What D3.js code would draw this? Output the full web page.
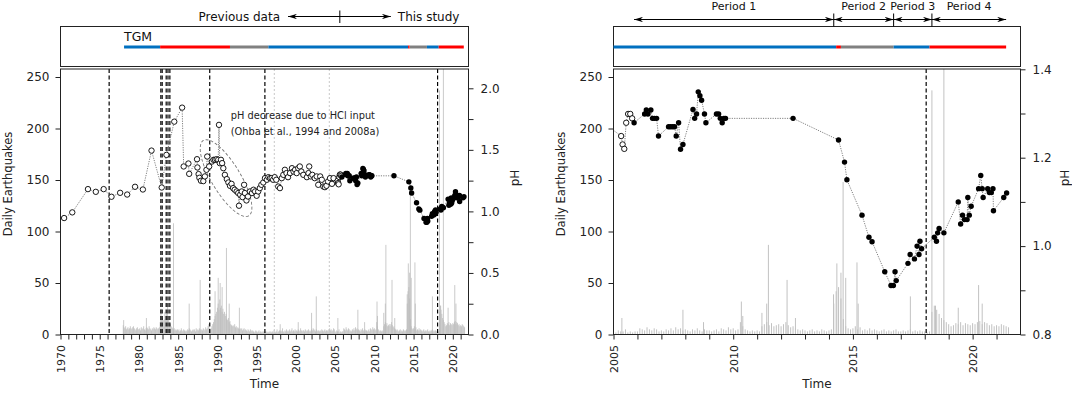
<!DOCTYPE html>
<html>
<head>
<meta charset="utf-8">
<script src="https://cdn.jsdelivr.net/npm/d3@7"></script>
<style>
  body { margin: 0; background: #fff; }
  svg { font-family: "DejaVu Sans", Verdana, sans-serif; }
</style>
</head>
<body>
<div id="chart"></div>
<script>
// ---- pH, previous data (open circles)
const prevYears = [1970.46, 1971.5, 1973.5, 1974.5, 1975.5, 1976.5, 1977.6, 1978.5, 1979.5, 1980.5,
  1981.6, 1982.9, 1983.5, 1984.5, 1985.5, 1985.7, 1986.3, 1986.4, 1987.4, 1987.45,
  1987.6, 1987.7, 1987.9, 1988.2, 1988.4, 1988.6, 1988.7, 1988.95, 1989.3, 1989.5,
  1989.7, 1989.9, 1990.1, 1990.2, 1990.3, 1990.45, 1990.6, 1990.75, 1990.95, 1991.2,
  1991.4, 1991.6, 1991.8, 1992.0, 1992.2, 1992.45, 1992.65, 1992.75, 1992.9, 1993.1,
  1993.2, 1993.4, 1993.5, 1993.7, 1993.9, 1994.15, 1994.4, 1994.6, 1994.8, 1995.0,
  1995.2, 1995.4, 1995.6, 1995.85, 1996.06, 1996.3, 1996.5, 1996.7, 1996.9, 1997.1,
  1997.3, 1997.5, 1997.75, 1997.97, 1998.2, 1998.4, 1998.6, 1998.8, 1999.0, 1999.25,
  1999.5, 1999.7, 1999.9, 2000.1, 2000.3, 2000.5, 2000.7, 2000.95, 2001.4, 2001.6,
  2001.7, 2001.9, 2002.1, 2002.4, 2002.65, 2002.85, 2003.1, 2003.3, 2003.5, 2003.7,
  2003.9, 2004.1, 2004.35, 2004.6, 2004.8, 2005.32, 2005.38, 2005.45, 2005.53, 2005.61,
  2005.7, 2005.78];
const prevPH = [0.946, 0.992, 1.181, 1.159, 1.181, 1.119, 1.151, 1.137, 1.2, 1.178,
  1.494, 1.194, 1.459, 1.729, 1.843, 1.365, 1.389, 1.305, 1.424, 1.357,
  1.303, 1.273, 1.249, 1.246, 1.284, 1.338, 1.446, 1.365, 1.405, 1.419,
  1.419, 1.424, 1.419, 1.703, 1.392, 1.419, 1.392, 1.351, 1.297, 1.262,
  1.235, 1.208, 1.224, 1.189, 1.176, 1.162, 1.149, 1.046, 1.135, 1.162,
  1.116, 1.216, 1.149, 1.089, 1.121, 1.162, 1.149, 1.176, 1.162, 1.127,
  1.162, 1.189, 1.216, 1.235, 1.27, 1.257, 1.278, 1.27, 1.27, 1.257,
  1.278, 1.257, 1.202, 1.189, 1.27, 1.297, 1.338, 1.311, 1.278, 1.311,
  1.351, 1.324, 1.338, 1.311, 1.351, 1.365, 1.324, 1.297, 1.278, 1.311,
  1.365, 1.284, 1.297, 1.27, 1.284, 1.216, 1.284, 1.257, 1.202, 1.197,
  1.208, 1.243, 1.27, 1.224, 1.27, 1.249, 1.23, 1.22, 1.279, 1.299,
  1.299, 1.289];

// ---- pH, this study (filled circles)
const studyYears = [2005.86, 2006.3, 2006.37, 2006.44, 2006.56, 2006.63, 2006.71, 2006.8, 2006.88, 2007.3,
  2007.38, 2007.47, 2007.55, 2007.62, 2007.72, 2007.8, 2007.9, 2008.32, 2008.39, 2008.47,
  2008.54, 2008.61, 2008.68, 2008.8, 2008.86, 2009.3, 2009.39, 2009.46, 2009.54, 2009.61,
  2009.68, 2012.5, 2014.4, 2014.65, 2014.75, 2015.38, 2015.67, 2015.8, 2016.33, 2016.59,
  2016.69, 2016.76, 2016.81, 2017.3, 2017.39, 2017.57, 2017.68, 2017.76, 2017.8, 2017.87,
  2018.4, 2018.49, 2018.54, 2018.6, 2018.8, 2019.4, 2019.5, 2019.58, 2019.66, 2019.77,
  2019.8, 2019.86, 2019.94, 2020.25, 2020.34, 2020.4, 2020.44, 2020.63, 2020.7, 2020.78,
  2020.85, 2020.87, 2021.3, 2021.42];
const studyPH = [1.279, 1.299, 1.308, 1.299, 1.308, 1.289, 1.289, 1.289, 1.249, 1.27,
  1.27, 1.27, 1.27, 1.249, 1.279, 1.219, 1.23, 1.309, 1.289, 1.299,
  1.349, 1.34, 1.33, 1.299, 1.279, 1.299, 1.299, 1.289, 1.279, 1.289,
  1.289, 1.289, 1.24, 1.19, 1.15, 1.07, 1.02, 1.01, 0.942, 0.911,
  0.911, 0.942, 0.922, 0.961, 0.981, 0.971, 1.0, 0.981, 1.011, 0.994,
  1.02, 1.011, 1.03, 1.04, 1.03, 1.1, 1.05, 1.07, 1.06, 1.06,
  1.11, 1.07, 1.09, 1.13, 1.16, 1.13, 1.11, 1.13, 1.121, 1.121,
  1.13, 1.08, 1.11, 1.12];

// ---- daily earthquakes: background level, 10 values per year from 1978
const quakeFirstYear = 1978;
const quakeBase = [
  [9, 7, 6, 8, 5, 6, 7, 5, 6, 8], [6, 5, 7, 8, 6, 5, 4, 6, 7, 5],
  [5, 6, 4, 7, 5, 6, 8, 5, 4, 6], [7, 6, 5, 8, 6, 5, 4, 6, 5, 7],
  [6, 5, 7, 6, 5, 6, 7, 12, 15, 18], [16, 14, 12, 15, 18, 20, 16, 14, 18, 12],
  [10, 8, 7, 6, 5, 6, 4, 5, 4, 5], [4, 5, 3, 4, 6, 4, 3, 5, 4, 3],
  [4, 3, 5, 4, 6, 5, 4, 3, 4, 5], [4, 5, 3, 6, 4, 5, 4, 6, 5, 4],
  [5, 4, 6, 5, 4, 7, 5, 6, 8, 10], [6, 5, 6, 8, 10, 12, 15, 18, 20, 22],
  [26, 30, 24, 34, 26, 28, 22, 25, 20, 22], [18, 20, 15, 14, 16, 12, 13, 10, 9, 8],
  [9, 8, 10, 7, 8, 6, 7, 6, 5, 6], [5, 6, 4, 5, 6, 4, 5, 4, 3, 5],
  [4, 3, 5, 4, 3, 4, 3, 2, 3, 4], [3, 2, 3, 4, 2, 3, 2, 3, 2, 3],
  [2, 3, 2, 3, 2, 2, 3, 2, 3, 2], [3, 2, 4, 3, 2, 3, 5, 2, 3, 4],
  [3, 4, 3, 6, 3, 2, 4, 3, 5, 3], [4, 3, 5, 3, 4, 6, 3, 4, 3, 5],
  [3, 4, 3, 5, 4, 3, 6, 4, 3, 4], [4, 3, 5, 4, 3, 4, 5, 3, 4, 3],
  [5, 4, 6, 5, 4, 3, 5, 4, 3, 4], [3, 4, 3, 5, 4, 3, 4, 5, 3, 4],
  [4, 3, 5, 6, 4, 5, 3, 4, 6, 5], [3, 2, 4, 3, 3, 5, 2, 3, 2, 3],
  [3, 6, 5, 4, 7, 5, 4, 6, 5, 3], [4, 3, 5, 4, 6, 4, 7, 5, 6, 4],
  [5, 4, 3, 5, 4, 6, 4, 3, 5, 4], [4, 3, 4, 5, 3, 6, 5, 4, 7, 5],
  [6, 4, 5, 12, 8, 5, 4, 3, 4, 3], [4, 3, 8, 10, 12, 9, 11, 8, 9, 10],
  [8, 10, 12, 9, 7, 8, 6, 5, 4, 5], [4, 3, 4, 5, 3, 4, 3, 5, 4, 3],
  [4, 5, 30, 42, 46, 35, 15, 8, 6, 5], [6, 8, 5, 7, 4, 5, 4, 6, 4, 5],
  [4, 3, 4, 5, 3, 4, 3, 4, 5, 3], [3, 4, 3, 4, 5, 3, 4, 3, 4, 3],
  [3, 2, 3, 22, 28, 24, 20, 16, 14, 12], [10, 8, 9, 11, 10, 12, 9, 11, 10, 9],
  [11, 10, 12, 13, 10, 12, 11, 9, 10, 8], [9, 8, 10, 9, 8, 7]
];
// ---- daily earthquakes: individual peaks
const spikeYears = [1978.05, 1980.95, 1982.8, 1983.3, 1983.65, 1984.4, 1986.4, 1987.8, 1989.7, 1990.1,
  1990.35, 1990.6, 1991.15, 1991.5, 1992.8, 1998.0, 2000.3, 2002.0, 2002.6, 2005.35,
  2007.9, 2008.76, 2010.34, 2010.4, 2011.2, 2011.4, 2011.47, 2012.25, 2012.6, 2014.19,
  2014.33, 2014.5, 2014.59, 2014.7, 2015.17, 2015.22, 2017.4, 2018.3, 2018.45, 2018.8,
  2019.4, 2020.25, 2020.4];
const spikeCounts = [14, 16, 25, 22, 30, 108, 30, 53, 42, 55,
  50, 46, 84, 30, 26, 10, 12, 21, 37, 16,
  24, 12, 32, 18, 21, 30, 87, 53, 16, 39,
  69, 60, 148, 55, 70, 30, 37, 237, 28, 300,
  26, 48, 30];

// ---- event lines
const eruptionYears = [1976.2, 1982.79, 1982.96, 1983.47, 1983.7, 1983.94, 1989.02, 1996.05, 2018.06];
const dottedYears = [1997.25, 2004.26];

// ---- status bar (top strip)
const statusStart = [1978.1, 1982.7, 1991.6, 1996.5, 2014.3, 2014.5, 2016.7, 2018.2];
const statusEnd = [1982.7, 1991.6, 1996.5, 2014.3, 2014.5, 2016.7, 2018.2, 2021.4];
const statusColor = ["#0070C0", "#FF0000", "#808080", "#0070C0", "#FF0000", "#808080", "#0070C0", "#FF0000"];

// ---- header annotations
const periodLabels = ["Period 1", "Period 2", "Period 3", "Period 4"];
const periodBounds = [2005.86, 2014.2, 2016.7, 2018.3, 2021.4];
const studySplit = 2005.6;
const studyArrow = [1999.0, 2012.1];

const W = 1072, H = 393;
const plotTop = 69, plotBottom = 334.5;
const boxTop = 26.5, boxBottom = 66.5;

const svg = d3.select("#chart").append("svg")
  .attr("width", W).attr("height", H);

const defs = svg.append("defs");
defs.append("marker")
  .attr("id", "arrow")
  .attr("viewBox", "0 0 10 6")
  .attr("refX", 10).attr("refY", 3)
  .attr("markerWidth", 9).attr("markerHeight", 5.4)
  .attr("markerUnits", "userSpaceOnUse")
  .attr("orient", "auto-start-reverse")
  .append("path").attr("d", "M0,0 L10,3 L0,6 L3,3 Z").attr("fill", "#000");

const panels = [
  { id: "a", left: 60.5, right: 468.5, domain: [1970, 2022], phDomain: [0, 2], phTop: 88.3,
    phTicks: d3.range(0, 9).map(d => d * 0.25), phEvery: 2, yTitleX: 8, pTitleX: 515,
    barW: 0.8, barColor: "#bdbdbd" },
  { id: "b", left: 613.5, right: 1020.5, domain: [2005, 2022], phDomain: [0.8, 1.4], phTop: 69.3,
    phTicks: d3.range(8, 15).map(d => d / 10), phEvery: 2, yTitleX: 561, pTitleX: 1065,
    barW: 1.0, barColor: "#c2c2c2" }
];

// flatten earthquake series
const quakes = [];
quakeBase.forEach((row, i) => row.forEach((c, j) => quakes.push({ t: quakeFirstYear + i + j / 10, c })));
spikeYears.forEach((t, i) => quakes.push({ t, c: spikeCounts[i] }));

const prevPts = prevYears.map((t, i) => ({ t, ph: prevPH[i] }));
const studyPts = studyYears.map((t, i) => ({ t, ph: studyPH[i] }));
const allPts = prevPts.concat(studyPts);

panels.forEach(p => drawPanel(p));

function drawPanel(p) {
  const x = d3.scaleLinear().domain(p.domain).range([p.left, p.right]);
  const yQ = d3.scaleLinear().domain([0, 250]).range([plotBottom, 77]);
  const yP = d3.scaleLinear().domain(p.phDomain).range([plotBottom, p.phTop]);
  const inDomain = t => t >= p.domain[0] && t <= p.domain[1];

  const clipId = "clip-" + p.id;
  defs.append("clipPath").attr("id", clipId)
    .append("rect")
    .attr("x", p.left).attr("y", plotTop)
    .attr("width", p.right - p.left).attr("height", plotBottom - plotTop);

  const plot = svg.append("g").attr("clip-path", `url(#${clipId})`);

  // earthquake histogram
  plot.append("g")
    .selectAll("line")
    .data(quakes.filter(d => inDomain(d.t)))
    .join("line")
    .attr("x1", d => x(d.t)).attr("x2", d => x(d.t))
    .attr("y1", yQ(0)).attr("y2", d => yQ(d.c))
    .attr("stroke", p.barColor)
    .attr("stroke-width", p.barW);

  // dotted light lines
  plot.selectAll(".dotline")
    .data(dottedYears.filter(inDomain))
    .join("line")
    .attr("class", "dotline")
    .attr("x1", d => x(d)).attr("x2", d => x(d))
    .attr("y1", plotTop).attr("y2", plotBottom)
    .attr("stroke", "#c8c8c8").attr("stroke-width", 1)
    .attr("stroke-dasharray", "2,2");

  // eruptions
  plot.selectAll(".erupt")
    .data(eruptionYears.filter(inDomain))
    .join("line")
    .attr("class", "erupt")
    .attr("x1", d => x(d)).attr("x2", d => x(d))
    .attr("y1", plotTop).attr("y2", plotBottom)
    .attr("stroke", "#000").attr("stroke-width", 1.2)
    .attr("stroke-dasharray", "4,2.5");

  // HCl annotation (left panel only)
  if (p.id === "a") {
    const cx = x(1991.1), cy = yP(1.27);
    plot.append("ellipse")
      .attr("cx", 0).attr("cy", 0).attr("rx", 44).attr("ry", 14.5)
      .attr("transform", `translate(${cx},${cy}) rotate(59)`)
      .attr("fill", "none").attr("stroke", "#777").attr("stroke-width", 0.9)
      .attr("stroke-dasharray", "3,2");
    const note = svg.append("text")
      .attr("x", x(1991.7)).attr("y", yP(1.75))
      .attr("font-size", 9.8).attr("fill", "#222");
    note.append("tspan").attr("x", x(1991.7)).text("pH decrease due to HCl input");
    note.append("tspan").attr("x", x(1991.7)).attr("dy", 15.5).text("(Ohba et al., 1994 and 2008a)");
  }

  // pH connecting line
  plot.append("path")
    .datum(allPts)
    .attr("d", d3.line().x(d => x(d.t)).y(d => yP(d.ph)))
    .attr("fill", "none")
    .attr("stroke", "#808080").attr("stroke-width", 1)
    .attr("stroke-dasharray", "1.2,1.2");

  plot.selectAll(".open")
    .data(prevPts)
    .join("circle")
    .attr("class", "open")
    .attr("cx", d => x(d.t)).attr("cy", d => yP(d.ph))
    .attr("r", 2.7)
    .attr("fill", "#fff").attr("stroke", "#000").attr("stroke-width", 0.9);

  plot.selectAll(".filled")
    .data(studyPts)
    .join("circle")
    .attr("class", "filled")
    .attr("cx", d => x(d.t)).attr("cy", d => yP(d.ph))
    .attr("r", 2.7)
    .attr("fill", "#000");

  // frame
  svg.append("rect")
    .attr("x", p.left).attr("y", plotTop)
    .attr("width", p.right - p.left).attr("height", plotBottom - plotTop)
    .attr("fill", "none").attr("stroke", "#222").attr("stroke-width", 1);

  // axes
  const years = d3.range(p.domain[0], p.domain[1]);
  const xAxis = svg.append("g")
    .attr("transform", `translate(0,${plotBottom})`)
    .call(d3.axisBottom(x).tickValues(years)
      .tickFormat(d => d % 5 === 0 ? d : "").tickSize(5).tickSizeOuter(0));
  xAxis.selectAll("text")
    .attr("transform", "rotate(-90)")
    .attr("x", -10.5).attr("y", 0).attr("dy", "0.35em")
    .attr("text-anchor", "end")
    .attr("font-size", 11);

  const yAxis = svg.append("g")
    .attr("transform", `translate(${p.left},0)`)
    .call(d3.axisLeft(yQ).tickValues(d3.range(0, 251, 50)).tickSize(5).tickPadding(6).tickSizeOuter(0));
  yAxis.selectAll("text").attr("font-size", 12);

  const pAxis = svg.append("g")
    .attr("transform", `translate(${p.right},0)`)
    .call(d3.axisRight(yP).tickValues(p.phTicks)
      .tickFormat((d, i) => i % p.phEvery === 0 ? d3.format(".1f")(d) : "")
      .tickSize(5).tickPadding(7).tickSizeOuter(0));
  pAxis.selectAll("text").attr("font-size", 12);

  [xAxis, yAxis, pAxis].forEach(a => {
    a.attr("font-family", null);
    a.select(".domain").remove();
    a.selectAll("line").attr("stroke", "#222");
    a.selectAll("text").attr("fill", "#222");
  });

  // axis titles
  svg.append("text")
    .attr("transform", `translate(${p.yTitleX},184) rotate(-90)`)
    .attr("text-anchor", "middle").attr("dy", "0.35em")
    .attr("font-size", 11.5).attr("fill", "#222")
    .text("Daily Earthquakes");
  svg.append("text")
    .attr("transform", `translate(${p.pTitleX},178) rotate(-90)`)
    .attr("text-anchor", "middle").attr("dy", "0.35em")
    .attr("font-size", 12).attr("fill", "#222")
    .text("pH");
  svg.append("text")
    .attr("x", (p.left + p.right) / 2).attr("y", 388)
    .attr("text-anchor", "middle")
    .attr("font-size", 12).attr("fill", "#222")
    .text("Time");

  // top strip
  svg.append("rect")
    .attr("x", p.left).attr("y", boxTop)
    .attr("width", p.right - p.left).attr("height", boxBottom - boxTop)
    .attr("fill", "none").attr("stroke", "#222").attr("stroke-width", 1);

  svg.append("g").selectAll("line")
    .data(statusStart.map((s, i) => ({ s, e: statusEnd[i], c: statusColor[i] }))
      .filter(d => d.e > p.domain[0]))
    .join("line")
    .attr("x1", d => x(Math.max(d.s, p.domain[0]))).attr("x2", d => x(Math.min(d.e, p.domain[1])))
    .attr("y1", 47).attr("y2", 47)
    .attr("stroke", d => d.c).attr("stroke-width", 3);

  if (p.id === "a") {
    svg.append("text")
      .attr("x", x(statusStart[0])).attr("y", 41)
      .attr("font-size", 12.5).attr("fill", "#111")
      .text("TGM");

    svg.append("line")
      .attr("x1", x(studyArrow[0])).attr("x2", x(studyArrow[1]))
      .attr("y1", 16.5).attr("y2", 16.5)
      .attr("stroke", "#000").attr("stroke-width", 1)
      .attr("marker-start", "url(#arrow)").attr("marker-end", "url(#arrow)");
    svg.append("line")
      .attr("x1", x(studySplit)).attr("x2", x(studySplit))
      .attr("y1", 10.5).attr("y2", 23)
      .attr("stroke", "#000").attr("stroke-width", 1);
    svg.append("text")
      .attr("x", x(studyArrow[0]) - 8).attr("y", 20.8)
      .attr("text-anchor", "end").attr("font-size", 12).attr("fill", "#111")
      .text("Previous data");
    svg.append("text")
      .attr("x", x(studyArrow[1]) + 7).attr("y", 20.8)
      .attr("font-size", 12).attr("fill", "#111")
      .text("This study");
  } else {
    periodLabels.forEach((lab, i) => {
      const a = periodBounds[i], b = periodBounds[i + 1];
      svg.append("line")
        .attr("x1", x(a)).attr("x2", x(b))
        .attr("y1", 19.5).attr("y2", 19.5)
        .attr("stroke", "#000").attr("stroke-width", 1)
        .attr("marker-start", "url(#arrow)").attr("marker-end", "url(#arrow)");
      svg.append("text")
        .attr("x", x((a + b) / 2)).attr("y", 10)
        .attr("text-anchor", "middle").attr("font-size", 11).attr("fill", "#111")
        .text(lab);
    });
    periodBounds.slice(1, 4).forEach(b => {
      svg.append("line")
        .attr("x1", x(b)).attr("x2", x(b))
        .attr("y1", 13.5).attr("y2", boxTop)
        .attr("stroke", "#000").attr("stroke-width", 1);
    });
  }
}
</script>
</body>
</html>
